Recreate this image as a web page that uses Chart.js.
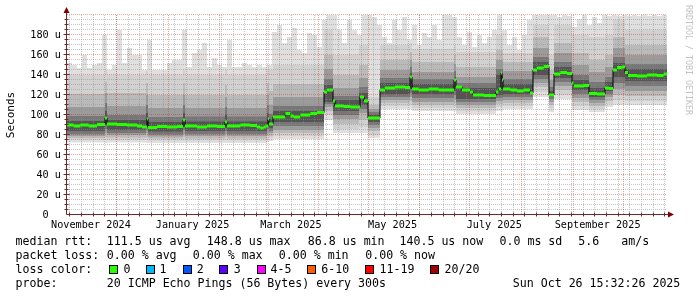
<!DOCTYPE html>
<html><head><meta charset="utf-8">
<script src="https://cdn.jsdelivr.net/npm/chart.js@4.4.1/dist/chart.umd.min.js"></script>
<style>
html,body{margin:0;padding:0;background:#fff;}
#wrap{position:relative;width:697px;height:297px;overflow:hidden;background:#fff;}
#c{position:absolute;left:0;top:0;}
.lg{position:absolute;font-family:'DejaVu Sans Mono',monospace;font-size:11.6px;line-height:14px;white-space:pre;color:#000;}
.bx{position:absolute;width:7px;height:7px;border:1px solid #000;}
</style></head>
<body><div id="wrap"><canvas id="c" width="697" height="297"></canvas><div id="legend"></div></div>
<script>
// ---------- time frame (360 days ending Sun Oct 26 15:32:26 2025) ----------
const START = Date.UTC(2024, 9, 31, 15, 32, 26);
const SPAN = 360; // days
const dayOf = (y, m, d) => (Date.UTC(y, m, d) - START) / 864e5;

// ---------- x tick labels ----------
const xLabelDates = [[2024,10,15],[2025,0,15],[2025,2,15],[2025,4,15],[2025,6,15],[2025,8,15]];
const xLabels = ['November 2024','January 2025','March 2025','May 2025','July 2025','September 2025'];

// ---------- y ticks ----------
const yMax = 200;
const yStep = 20;

// ---------- median rtt (us), step series: start day / value ----------
const medianDays = [0,4,8,13,18,22.8,24,30,36,42,45,48,48.6,54,60,66,69.6,70.8,78,84,90,94.8,96,104,110,114,116,118,119.4,120.6,121.2,123.6,131,134,136,140,146,150,154.2,156,159.6,160.8,166,170,175.8,178.2,180.6,187.8,190.8,196.8,202.8,205.8,207,211,217,223,232.2,233.4,237,241.8,243.6,250,257.4,259,260.4,261,261.6,266,270,274,277.8,279.6,282,286,289.2,292.2,296,300,303,304,310,313.2,318,322.8,325,327.6,330,333,334.8,336.6,342,348,354,358];
const medianVals = [90,89,90,89,90.5,97,91,90.5,90,89,88,96,87.5,88.5,88,88.5,95,89,88,89,88.5,93,89,90,89.5,88,87,88,89,96,91,98,101.5,99,98,100,101.5,102.5,123,125,114,109,108.5,108,118,114,97,125,127,128,127.5,138,126,125,126,125,135,128,125,123,120,119.5,123,126,142,135,126,125,124,125,122,145,147,148.5,120,141,142.5,141.5,132,129,129.5,121.5,121,127,126.5,145,147.5,148,142.5,139.5,139,140,139.5,141];

// ---------- maximum ping (us), one value per 3-day slot ----------
const maxSlotDays = 3;
const maxPing = [
152,150,147,160,147,150,152,180,145,150,
185,152,167,160,160,145,175,145,145,145,
152,155,155,185,148,162,165,172,148,157,
150,148,175,148,148,152,150,148,150,148,
150,183,190,172,178,187,165,162,182,180,
168,195,200,200,185,172,195,185,180,200,
200,198,190,178,172,195,185,198,175,190,
170,182,178,190,175,200,200,198,178,170,
183,168,180,172,178,185,200,185,170,178,
165,180,195,200,200,200,200,200,198,200,
199,188,196,200,190,198,192,200,199,200,
199,200,199,200,199,200,199,200,199,200];

// ---------- smoke bands (us), step series per segment start day ----------
const smokeDays = [0,22.8,24,47.4,48.6,69.6,70.8,94.8,96,120,121.2,123.6,154.2,159.6,175.2,180.6,187.8,205.8,207,232.2,233.4,257.4,261.6,279.6,289.2,292.2,303,313.2,322.8,327.6,334.8];
const lo1 = [72.5,72,72.5,72,72,72,72,72,72,73,74,76,95,82,82,77,106,106,104,104,101,104,106,118,103,116,105,103,108,110,110];
const lo2 = [75,75,75,75,74.5,75,74.5,75,74.5,76,77,79,100,86,88,80,109,110,107,108,104,108,109,123,107,120,109,106,111,115,114];
const lo3 = [77,78,77.5,78,76.5,78,76.5,78,76.5,79,79,82,104,91,95,84,112,114,110,112,107,111,112,128,110,125,113,109,114,120,119];
const lo4 = [79,82,80,82,78.5,81,79,81,79,82,82,85,108,96,102,87,115,118,113,116,110,114,115,132,113,129,117,112,118,126,124];
const lo5 = [81,86,82,85,80.5,85,81,84,81,86,84,89,111,100,106,90,118,122,117,120,113,117,118,136,116,133,121,115,121,132,129];
const lo6 = [84,90,85,88,83.5,88,84,87,84,90,87,93,113,104,110,93,121,126,121,124,116,120,121,140,118,137,125,118,124,138,134];
const hi6 = [94,104,95,102,93,102,93.5,100,93.5,102,96,104,130,115,122,100,132,142,131,138,127,140,131,153,124,148,135,127,133,152,146];
const hi5 = [99,112,100,110,98,110,98.5,108,98.5,110,101,109,136,119,128,103,137,148,136,144,132,146,136,158,128,153,140,133,138,158,151];
const hi4 = [108,122,109,120,107,120,107,118,107,120,110,118,146,127,137,106,145,155,143,151,138,155,144,167,135,162,150,143,148,167,160];
const hi3 = [121,133,122,132,120,132,120,130,120,132,124,131,160,140,150,110,155,163,153,160,148,165,153,178,145,172,162,155,160,178,170];
const hi2 = [140,145,140,144,140,145,140,145,140,145,145,150,185,160,170,118,170,172,166,170,163,180,162,190,160,190,180,178,180,195,185];

// ---------- legend ----------
const lossLabels = ['0','1','2','3','4-5','6-10','11-19','20/20'];
const lossColors = ['#26ff00','#00b8ff','#0059ff','#5e00ff','#ff00ff','#ff5e00','#ff0000','#a10000'];
const statsRtt = ['111.5 us avg','148.8 us max','86.8 us min','140.5 us now','0.0 ms sd','5.6','am/s'];
const statsLoss = ['0.00 % avg','0.00 % max','0.00 % min','0.00 % now'];
const probeText = '20 ICMP Echo Pings (56 Bytes) every 300s';
const stampText = 'Sun Oct 26 15:32:26 2025';

// ---------- styles ----------
const SMOKE = ['#dfdfdf','#d1d1d1','#bababa','#9b9b9b','#777777','#545454'];
const GREEN = '#26ff00';
const AXIS = '#6a2a2a';
const ARROW = '#7f0000';
const MONO = "'DejaVu Sans Mono', monospace";

function steps(days, vals) {
  const pts = days.map((d, i) => ({x: d, y: vals[i]}));
  pts.push({x: SPAN, y: vals[vals.length - 1]});
  return pts;
}
const base = {type: 'line', pointRadius: 0, pointHoverRadius: 0, borderWidth: 0,
  borderColor: 'rgba(0,0,0,0)', stepped: true, tension: 0};

const maxDays = maxPing.map((_, i) => i * maxSlotDays);
const datasets = [];
datasets.push({...base, data: steps(maxDays, maxPing), fill: 'origin', backgroundColor: SMOKE[0], order: 100});
datasets.push({...base, data: steps(smokeDays, lo1), fill: 'origin', backgroundColor: '#ffffff', order: 99});
const loArr = [lo2, lo3, lo4, lo5, lo6];
const hiArr = [hi2, hi3, hi4, hi5, hi6];
for (let k = 0; k < 5; k++) {
  const loIdx = datasets.length;
  datasets.push({...base, data: steps(smokeDays, loArr[k]), fill: false, order: 50});
  datasets.push({...base, data: steps(smokeDays, hiArr[k]), fill: loIdx, backgroundColor: SMOKE[k + 1], order: 90 - k});
}
const MED_IDX = datasets.length;
datasets.push({...base, data: steps(medianDays, medianVals), fill: false, borderWidth: 1, borderColor: '#000', order: 3});
const gLoIdx = datasets.length;
datasets.push({...base, data: steps(medianDays, medianVals.map(v => v - 1.5)), fill: false, order: 40});
datasets.push({...base, data: steps(medianDays, medianVals.map(v => v + 1.5)), fill: gLoIdx, backgroundColor: GREEN, order: 1});

const xLabelDays = xLabelDates.map(d => dayOf(d[0], d[1], d[2]));

const rrdPlugin = {
  id: 'rrd',
  beforeDatasetDraw(chart, args) {
    if (args.index !== MED_IDX) return;
    const {ctx, chartArea: a, scales: {x, y}} = chart;
    ctx.save();
    ctx.lineWidth = 1;
    ctx.setLineDash([1, 1]);
    // horizontal grid
    for (let v = 5; v < yMax + 1; v += 5) {
      const py = y.getPixelForValue(v) - 0.5;
      ctx.strokeStyle = v % yStep === 0 ? 'rgba(200,40,40,0.42)' : 'rgba(140,140,140,0.5)';
      ctx.beginPath(); ctx.moveTo(a.left, py); ctx.lineTo(a.right, py); ctx.stroke();
    }
    // weekly minor lines (Sundays)
    ctx.strokeStyle = 'rgba(140,140,140,0.5)';
    for (let d = dayOf(2024, 10, 3); d < SPAN; d += 7) {
      const px = Math.floor(x.getPixelForValue(d)) - 0.5;
      ctx.beginPath(); ctx.moveTo(px, a.top); ctx.lineTo(px, a.bottom); ctx.stroke();
    }
    // monthly major lines
    ctx.strokeStyle = 'rgba(200,40,40,0.42)';
    for (let m = 0; m < 13; m++) {
      const d = dayOf(2024, 10 + m, 1);
      if (d <= 0 || d >= SPAN) continue;
      const px = Math.floor(x.getPixelForValue(d)) - 0.5;
      ctx.beginPath(); ctx.moveTo(px, a.top); ctx.lineTo(px, a.bottom); ctx.stroke();
    }
    ctx.restore();
  },
  afterDraw(chart) {
    const {ctx, chartArea: a, scales: {x, y}} = chart;
    ctx.save();
    ctx.setLineDash([]);
    ctx.lineWidth = 1;
    ctx.strokeStyle = AXIS;
    const y0 = y.getPixelForValue(0) - 0.5;
    const x0 = a.left - 0.5;
    ctx.beginPath();
    ctx.moveTo(x0, y0); ctx.lineTo(a.right + 3, y0);
    ctx.moveTo(x0, y0); ctx.lineTo(x0, a.top - 3);
    // small ticks
    for (let d = dayOf(2024, 10, 3); d < SPAN; d += 7) {
      const px = Math.floor(x.getPixelForValue(d)) - 0.5;
      ctx.moveTo(px, y0 - 2); ctx.lineTo(px, y0 + 2);
    }
    for (let v = 5; v < yMax; v += 5) {
      const py = y.getPixelForValue(v) - 0.5;
      const l = v % yStep === 0 ? 3 : 2;
      ctx.moveTo(x0 - l, py); ctx.lineTo(x0 + l, py);
    }
    ctx.stroke();
    ctx.fillStyle = ARROW;
    ctx.beginPath();
    ctx.moveTo(x0, a.top - 8); ctx.lineTo(x0 - 3, a.top - 2); ctx.lineTo(x0 + 3, a.top - 2); ctx.closePath(); ctx.fill();
    ctx.beginPath();
    ctx.moveTo(a.right + 7, y0); ctx.lineTo(a.right + 1, y0 - 3); ctx.lineTo(a.right + 1, y0 + 3); ctx.closePath(); ctx.fill();
    // watermark
    ctx.translate(688, 5);
    ctx.rotate(Math.PI / 2);
    ctx.font = "8.3px " + MONO;
    ctx.fillStyle = '#c2c2c2';
    ctx.textAlign = 'left';
    ctx.textBaseline = 'middle';
    ctx.fillText('RRDTOOL / TOBI OETIKER', 0, 0);
    ctx.restore();
  }
};

Chart.defaults.font.family = MONO;
new Chart(document.getElementById('c'), {
  type: 'line',
  data: {datasets},
  options: {
    responsive: false, animation: false, devicePixelRatio: 1, events: [],
    layout: {padding: {left: 0, top: 15, right: 30, bottom: 62}},
    plugins: {legend: {display: false}, tooltip: {enabled: false}},
    scales: {
      x: {
        type: 'linear', min: 0, max: SPAN,
        grid: {display: false, drawTicks: false}, border: {display: false},
        afterBuildTicks: s => { s.ticks = xLabelDays.map(v => ({value: v})); },
        afterFit: s => { s.height = 20; },
        ticks: {autoSkip: false, maxRotation: 0, minRotation: 0, padding: 4, color: '#000',
          font: {family: MONO, size: 10.2}, callback: (v, i) => xLabels[i]}
      },
      y: {
        type: 'linear', min: 0, max: yMax,
        grid: {display: false, drawTicks: false}, border: {display: false},
        afterFit: s => { s.width = 67; },
        title: {display: true, text: 'Seconds', color: '#000', font: {family: MONO, size: 11}, padding: {top: 4.5, bottom: 0}},
        ticks: {stepSize: yStep, padding: 6, color: '#000', font: {family: MONO, size: 10.2},
          callback: v => v >= yMax ? '' : (v === 0 ? '0  ' : v + ' u')}
      }
    }
  },
  plugins: [rrdPlugin]
});

// ---------- legend (DOM text) ----------
const L = document.getElementById('legend');
function txt(x, top, s) {
  const e = document.createElement('div');
  e.className = 'lg'; e.style.left = x + 'px'; e.style.top = top + 'px'; e.textContent = s;
  L.appendChild(e);
}
const rttX = [106.8, 206.8, 307.8, 399.5, 499.5, 578.2, 621.2];
txt(15.5, 234.3, 'median rtt:');
statsRtt.forEach((s, i) => txt(rttX[i], 234.3, s));
const lossX = [106.8, 192.8, 278.8, 365.2];
txt(15.5, 248.2, 'packet loss:');
statsLoss.forEach((s, i) => txt(lossX[i], 248.2, s));
txt(15.5, 262.1, 'loss color:');
const boxX = [108.7, 145.7, 182.7, 219, 256.7, 307.3, 365, 430];
const lblX = [123.5, 159.5, 196.8, 233.8, 270.5, 321.2, 379.5, 444.5];
lossLabels.forEach((s, i) => {
  const b = document.createElement('div');
  b.className = 'bx'; b.style.left = boxX[i] + 'px'; b.style.top = '264.7px'; b.style.background = lossColors[i];
  L.appendChild(b);
  txt(lblX[i], 262.1, s);
});
txt(15.5, 276, 'probe:');
txt(106.8, 276, probeText);
txt(512.8, 276, stampText);
</script>
</body></html>
